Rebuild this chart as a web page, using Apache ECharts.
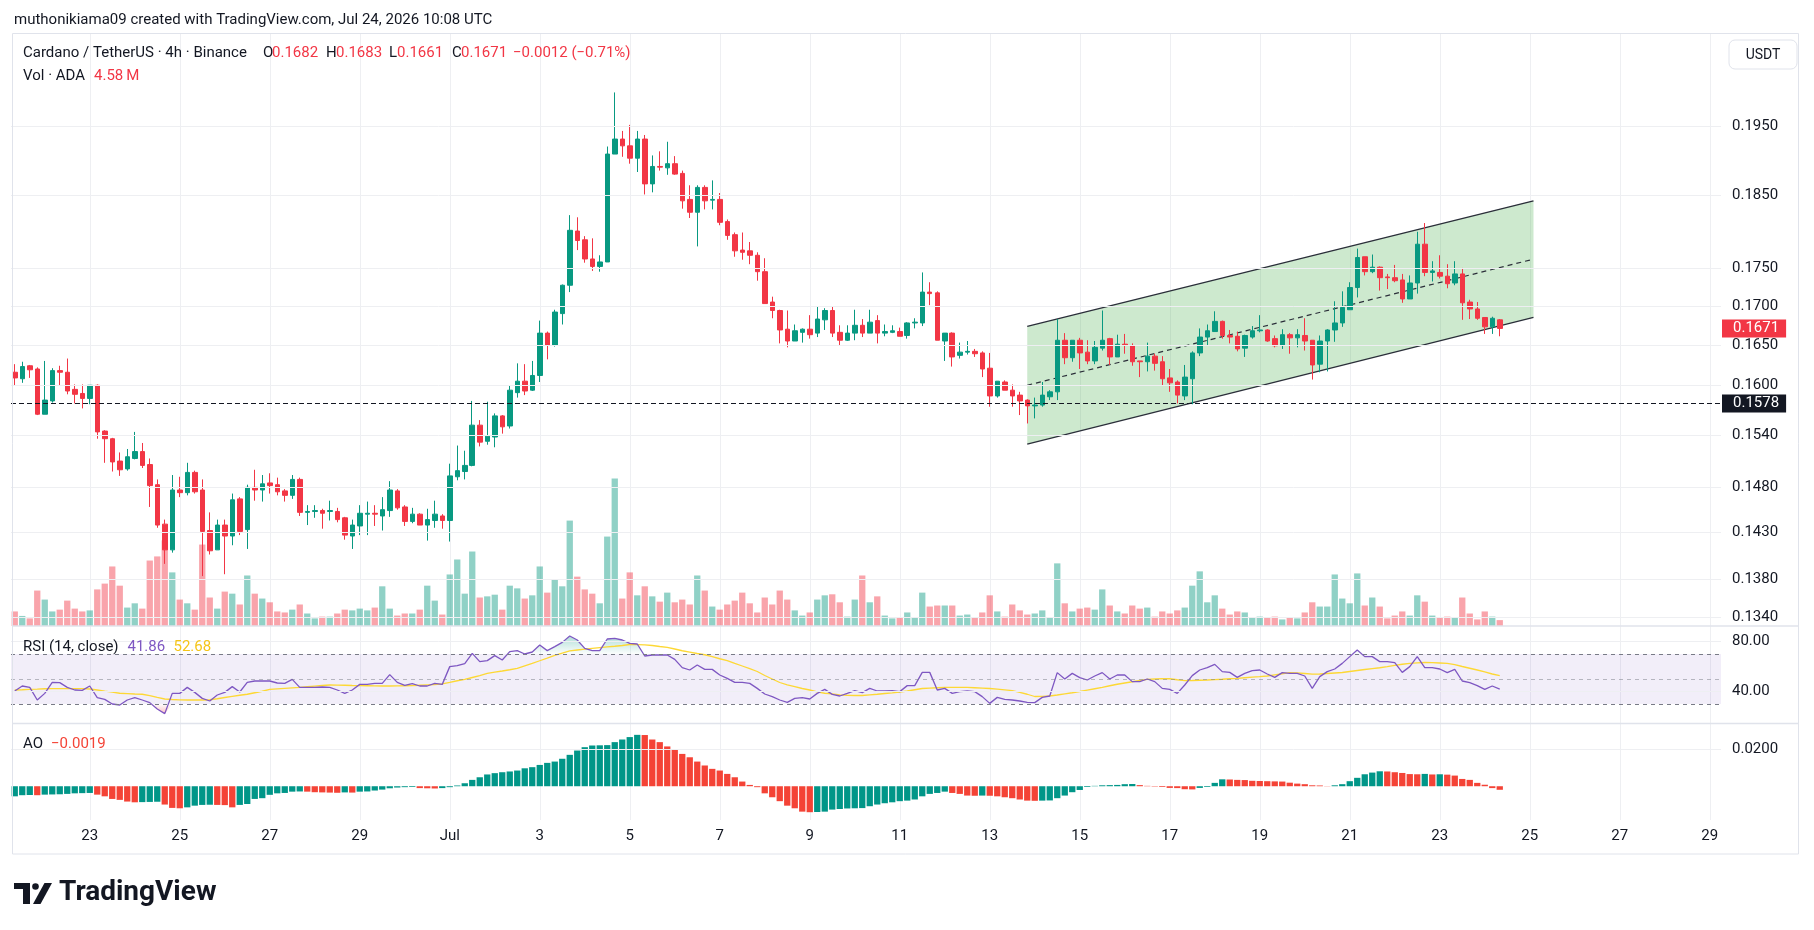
<!DOCTYPE html>
<html>
<head>
<meta charset="utf-8">
<title>Cardano / TetherUS 4h</title>
<script src="https://cdn.jsdelivr.net/npm/echarts@6.0.0/dist/echarts.min.js"></script>
<style>
html, body { margin: 0; padding: 0; background: #ffffff; }
#chart { width: 1814px; height: 930px; }
</style>
</head>
<body>
<div id="chart"></div>
<script>
// ADA/USDT 4h candles from Jun 21 08:00 UTC to Jul 24 08:00 UTC
var startTime = Date.UTC(2026, 5, 21, 8, 0);
var slotMs = 4 * 3600 * 1000;
var slotCount = 228;   // candles + empty right margin (to Jul 29)
var monthNames = ['Jan','Feb','Mar','Apr','May','Jun','Jul','Aug','Sep','Oct','Nov','Dec'];

var opens = [
  .1616,.1608,.1624,.1620,.1565,.1581,.1618,.1616,.1595,.1590,
  .1584,.1600,.1545,.1536,.1510,.1501,.1513,.1521,.1506,.1483,
  .1439,.1411,.1477,.1474,.1497,.1477,.1432,.1411,.1438,.1426,
  .1467,.1433,.1480,.1477,.1485,.1483,.1476,.1471,.1489,.1452,
  .1453,.1454,.1453,.1453,.1446,.1426,.1437,.1450,.1451,.1448,
  .1454,.1476,.1458,.1442,.1450,.1438,.1443,.1448,.1443,.1492,
  .1498,.1505,.1552,.1533,.1538,.1563,.1551,.1591,.1605,.1594,
  .1612,.1665,.1650,.1690,.1727,.1800,.1788,.1762,.1752,.1758,
  .1909,.1931,.1921,.1903,.1931,.1866,.1891,.1889,.1895,.1881,
  .1844,.1826,.1861,.1843,.1844,.1813,.1795,.1774,.1773,.1767,
  .1745,.1705,.1694,.1670,.1655,.1666,.1670,.1665,.1682,.1694,
  .1666,.1656,.1665,.1675,.1665,.1681,.1665,.1666,.1667,.1662,
  .1678,.1678,.1718,.1717,.1655,.1665,.1637,.1641,.1642,.1640,
  .1621,.1587,.1604,.1594,.1588,.1582,.1575,.1576,.1586,.1592,
  .1656,.1634,.1656,.1641,.1630,.1646,.1658,.1635,.1651,.1649,
  .1630,.1629,.1636,.1629,.1609,.1604,.1587,.1608,.1640,.1660,
  .1667,.1680,.1662,.1661,.1646,.1660,.1668,.1669,.1658,.1650,
  .1663,.1659,.1662,.1656,.1626,.1655,.1669,.1678,.1695,.1724,
  .1765,.1745,.1751,.1738,.1737,.1734,.1709,.1730,.1782,.1744,
  .1744,.1739,.1730,.1742,.1705,.1696,.1685,.1673,.1682
];
var highs = [
  .1626,.1629,.1625,.1622,.1630,.1621,.1624,.1633,.1601,.1601,
  .1600,.1601,.1546,.1537,.1520,.1524,.1544,.1531,.1513,.1489,
  .1444,.1494,.1492,.1508,.1499,.1489,.1452,.1444,.1444,.1473,
  .1469,.1483,.1500,.1494,.1496,.1491,.1478,.1494,.1491,.1460,
  .1460,.1456,.1465,.1457,.1447,.1444,.1460,.1464,.1460,.1469,
  .1487,.1478,.1460,.1457,.1451,.1456,.1465,.1450,.1507,.1528,
  .1522,.1581,.1558,.1580,.1566,.1564,.1600,.1627,.1626,.1630,
  .1681,.1667,.1695,.1728,.1822,.1819,.1793,.1790,.1767,.1920,
  .2001,.1943,.1952,.1943,.1937,.1907,.1913,.1927,.1906,.1885,
  .1864,.1864,.1864,.1871,.1853,.1816,.1798,.1798,.1785,.1771,
  .1763,.1712,.1695,.1694,.1676,.1671,.1688,.1699,.1697,.1699,
  .1675,.1675,.1695,.1683,.1695,.1688,.1676,.1675,.1672,.1679,
  .1684,.1744,.1731,.1719,.1665,.1666,.1653,.1655,.1645,.1642,
  .1640,.1605,.1606,.1601,.1592,.1583,.1585,.1604,.1594,.1683,
  .1665,.1656,.1659,.1656,.1655,.1694,.1659,.1663,.1664,.1652,
  .1630,.1653,.1639,.1636,.1620,.1606,.1625,.1642,.1671,.1676,
  .1693,.1681,.1669,.1667,.1663,.1674,.1688,.1670,.1662,.1670,
  .1665,.1670,.1684,.1656,.1662,.1670,.1706,.1719,.1731,.1776,
  .1765,.1768,.1752,.1742,.1754,.1742,.1740,.1799,.1811,.1759,
  .1767,.1755,.1759,.1750,.1708,.1705,.1685,.1686,.1683
];
var lows = [
  .1600,.1603,.1609,.1564,.1565,.1579,.1600,.1589,.1578,.1572,
  .1577,.1536,.1508,.1498,.1493,.1499,.1512,.1502,.1458,.1435,
  .1396,.1408,.1469,.1471,.1473,.1383,.1406,.1411,.1385,.1416,
  .1427,.1412,.1465,.1464,.1473,.1471,.1464,.1467,.1448,.1438,
  .1446,.1434,.1443,.1441,.1422,.1412,.1427,.1427,.1437,.1432,
  .1447,.1455,.1437,.1440,.1438,.1421,.1435,.1434,.1420,.1488,
  .1489,.1504,.1527,.1529,.1526,.1542,.1548,.1585,.1588,.1593,
  .1604,.1632,.1648,.1676,.1718,.1774,.1757,.1746,.1745,.1758,
  .1909,.1905,.1895,.1883,.1851,.1854,.1885,.1879,.1879,.1831,
  .1818,.1779,.1830,.1830,.1808,.1788,.1765,.1761,.1755,.1733,
  .1703,.1684,.1652,.1647,.1655,.1653,.1658,.1660,.1669,.1660,
  .1650,.1655,.1656,.1660,.1665,.1652,.1661,.1665,.1661,.1658,
  .1671,.1674,.1701,.1656,.1630,.1623,.1633,.1638,.1635,.1610,
  .1574,.1585,.1594,.1574,.1564,.1554,.1560,.1574,.1582,.1582,
  .1626,.1629,.1620,.1626,.1626,.1643,.1625,.1635,.1639,.1624,
  .1610,.1617,.1618,.1600,.1592,.1578,.1582,.1577,.1636,.1650,
  .1667,.1658,.1652,.1642,.1635,.1658,.1666,.1654,.1647,.1645,
  .1639,.1647,.1643,.1607,.1616,.1617,.1654,.1673,.1695,.1711,
  .1740,.1743,.1720,.1722,.1731,.1704,.1709,.1716,.1739,.1732,
  .1736,.1723,.1727,.1682,.1683,.1682,.1664,.1664,.1661
];
var closes = [
  .1609,.1623,.1619,.1565,.1582,.1618,.1616,.1593,.1589,.1584,
  .1600,.1544,.1536,.1509,.1500,.1515,.1521,.1505,.1482,.1438,
  .1411,.1477,.1474,.1497,.1475,.1431,.1410,.1438,.1426,.1466,
  .1431,.1480,.1477,.1484,.1482,.1475,.1471,.1489,.1452,.1453,
  .1454,.1451,.1454,.1444,.1427,.1438,.1451,.1451,.1450,.1455,
  .1477,.1457,.1442,.1450,.1438,.1444,.1450,.1443,.1493,.1499,
  .1505,.1552,.1532,.1539,.1563,.1550,.1594,.1605,.1593,.1612,
  .1665,.1650,.1692,.1727,.1801,.1787,.1762,.1752,.1758,.1909,
  .1931,.1921,.1903,.1931,.1866,.1891,.1890,.1895,.1880,.1842,
  .1826,.1861,.1842,.1844,.1812,.1794,.1773,.1771,.1767,.1745,
  .1703,.1694,.1669,.1655,.1668,.1670,.1663,.1683,.1694,.1665,
  .1656,.1665,.1675,.1665,.1679,.1665,.1667,.1668,.1661,.1678,
  .1679,.1718,.1716,.1656,.1665,.1635,.1641,.1642,.1639,.1620,
  .1587,.1605,.1594,.1587,.1581,.1575,.1576,.1588,.1592,.1656,
  .1634,.1656,.1640,.1630,.1647,.1656,.1635,.1651,.1650,.1629,
  .1629,.1636,.1627,.1608,.1603,.1588,.1610,.1640,.1660,.1668,
  .1680,.1662,.1660,.1645,.1662,.1668,.1669,.1655,.1649,.1663,
  .1659,.1663,.1655,.1625,.1655,.1669,.1678,.1698,.1724,.1764,
  .1745,.1751,.1737,.1737,.1733,.1709,.1730,.1782,.1744,.1746,
  .1739,.1729,.1742,.1704,.1696,.1684,.1673,.1684,.1671
];
// volume, millions of ADA
var volumes = [
  11.3,7.8,5.9,27.5,20.5,11.3,12.7,19.7,13.5,11.3,
  12.1,28.4,32.9,46.2,31.3,14.3,17.6,13.5,50.8,54.0,
  66.4,41.6,20.5,17.6,12.7,63.2,22.1,13.5,26.7,25.1,
  16.7,39.2,25.1,21.3,18.4,11.3,10.5,12.7,16.7,9.7,
  5.9,7.3,7.3,9.7,12.7,12.1,13.5,12.1,14.3,30.8,
  13.5,8.1,9.7,9.7,12.7,31.3,19.7,8.9,40.0,51.6,
  25.1,57.8,22.1,23.0,24.3,12.7,31.3,29.2,21.3,23.8,
  46.2,25.9,36.2,30.8,81.8,38.3,28.4,25.1,17.6,69.4,
  114.5,21.3,41.6,23.8,30.8,23.0,18.9,25.9,18.4,20.5,
  16.7,39.2,27.5,15.1,12.7,16.7,19.7,25.9,17.6,10.5,
  22.1,16.7,27.5,20.5,12.1,8.1,10.5,20.5,23.8,24.6,
  18.4,7.3,20.5,39.2,18.4,23.0,8.1,5.9,6.5,10.5,
  6.5,25.9,15.1,15.9,15.9,15.9,8.1,8.9,6.5,10.5,
  23.8,11.3,7.3,16.7,12.1,8.9,9.7,12.1,6.5,48.6,
  17.6,11.3,13.5,14.3,12.7,28.4,15.9,11.3,9.7,15.9,
  13.5,14.3,7.3,11.3,9.7,12.1,14.3,31.3,42.4,18.4,
  23.8,13.5,8.9,11.3,10.5,6.5,7.3,6.5,7.3,5.1,
  6.5,5.9,10.5,18.4,15.1,15.1,40.0,21.3,17.6,40.8,
  15.9,22.1,15.1,5.9,8.1,11.3,8.1,23.8,18.9,8.1,
  6.5,7.3,6.5,22.1,9.7,5.1,11.3,7.3,4.58
];
var rsiValues = [
  40.4,44.4,43.3,33.2,38.5,47.3,47.1,43.3,41.2,40.9,
  44.4,35.1,33.7,30.0,29.2,33.2,35.1,33.2,31.1,26.0,
  22.3,38.5,38.5,43.3,39.3,34.5,32.4,37.2,39.3,43.9,
  39.6,47.3,48.4,48.4,48.4,46.8,46.5,49.7,43.3,43.3,
  43.3,43.6,43.3,41.2,38.5,41.2,45.7,45.7,46.5,46.5,
  53.5,47.3,44.9,46.3,44.4,44.4,46.5,45.7,59.9,60.7,
  62.3,70.5,63.9,64.7,68.7,65.2,71.9,72.7,70.0,71.6,
  77.2,72.7,75.9,79.3,84.4,81.2,74.5,72.7,72.7,82.0,
  82.5,81.2,78.5,78.0,68.4,69.2,69.2,69.2,65.7,59.1,
  57.2,61.2,57.7,57.7,53.2,50.5,47.3,47.3,46.5,42.5,
  38.0,35.9,33.2,31.3,34.5,35.1,34.0,38.5,41.7,37.7,
  36.4,38.5,40.7,39.1,42.5,40.4,40.4,40.7,39.9,44.7,
  44.7,55.3,55.3,41.2,42.5,38.5,39.9,40.4,39.9,35.9,
  30.5,35.3,33.7,33.2,32.4,31.3,31.1,35.3,36.4,55.1,
  50.0,54.5,51.1,49.2,52.4,55.1,50.0,53.2,53.2,47.9,
  47.9,50.0,47.9,42.5,41.7,38.5,45.2,52.7,57.2,59.1,
  61.7,55.9,55.3,51.3,54.5,56.7,57.2,54.0,51.3,55.1,
  54.5,54.5,52.4,42.5,51.9,55.9,58.0,62.5,67.9,73.2,
  67.9,67.9,63.9,63.9,63.1,55.3,59.9,67.9,59.1,59.1,
  58.0,55.1,57.7,48.4,47.1,44.7,41.7,44.4,41.86
];
var rsiMa = [
  41.2,41.4,41.7,41.9,42.2,42.3,42.3,42.3,42.3,42.3,
  42.0,41.2,40.3,39.5,38.6,38.3,38.0,37.8,36.7,35.3,
  34.0,33.6,33.3,33.2,33.2,33.2,33.4,34.2,35.2,36.1,
  37.0,37.8,39.0,40.2,41.7,42.1,42.5,42.9,43.3,43.8,
  44.3,44.8,45.2,45.1,45.0,44.8,44.7,44.6,44.5,44.4,
  44.4,44.5,44.6,44.7,45.0,45.3,45.6,46.1,47.3,48.6,
  49.7,51.2,52.7,54.5,55.5,56.4,57.4,58.5,60.5,62.5,
  64.6,66.7,68.9,70.7,72.5,73.2,73.9,74.5,75.1,75.7,
  76.2,76.8,77.6,77.5,77.3,76.8,76.0,75.3,74.0,72.6,
  71.5,70.4,69.4,67.9,66.2,64.7,62.5,60.4,58.3,56.0,
  52.8,50.0,47.2,45.3,43.9,42.4,41.2,39.7,38.6,38.1,
  37.3,37.0,36.8,36.8,37.3,37.8,38.4,38.9,39.6,40.4,
  41.4,42.4,42.7,43.0,43.3,43.3,43.3,43.3,43.0,42.7,
  42.4,41.9,41.3,40.7,39.3,37.8,36.0,36.1,36.4,37.2,
  38.1,39.0,40.0,41.1,42.2,43.3,44.6,45.8,46.8,47.8,
  48.8,49.7,50.0,50.3,50.2,49.4,48.7,48.8,49.0,49.2,
  49.5,49.8,50.2,50.5,51.0,51.5,51.9,52.4,53.3,54.2,
  55.1,54.9,54.4,53.9,54.0,54.4,54.8,55.2,56.0,56.8,
  57.6,58.3,59.0,59.9,60.9,61.8,62.5,62.9,63.2,63.1,
  62.8,62.5,61.5,60.0,58.6,57.2,55.7,54.0,52.68
];
var aoValues = [
  -.0054,-.0048,-.0047,-.0048,-.0045,-.0044,-.0043,-.0041,-.0038,-.0037,
  -.0036,-.0045,-.0054,-.0068,-.0073,-.0082,-.0086,-.0085,-.0084,-.0083,
  -.0098,-.0116,-.0118,-.0113,-.0104,-.0100,-.0099,-.0100,-.0101,-.0113,
  -.0100,-.0095,-.0068,-.0064,-.0046,-.0038,-.0036,-.0029,-.0028,-.0029,
  -.0032,-.0033,-.0034,-.0035,-.0033,-.0034,-.0029,-.0028,-.0023,-.0018,
  -.0011,-.0007,-.0005,-.0004,-.0010,-.0011,-.0012,-.0010,-.0005,.0004,
  .0016,.0034,.0048,.0063,.0070,.0075,.0079,.0084,.0096,.0102,
  .0114,.0125,.0132,.0147,.0168,.0191,.0209,.0218,.0219,.0220,
  .0236,.0250,.0263,.0275,.0274,.0250,.0236,.0213,.0197,.0173,
  .0155,.0132,.0111,.0093,.0084,.0066,.0048,.0025,.0007,-.0005,
  -.0038,-.0059,-.0080,-.0104,-.0118,-.0136,-.0139,-.0138,-.0136,-.0125,
  -.0122,-.0119,-.0118,-.0117,-.0107,-.0098,-.0091,-.0086,-.0080,-.0077,
  -.0071,-.0054,-.0041,-.0036,-.0029,-.0036,-.0041,-.0050,-.0051,-.0050,
  -.0051,-.0054,-.0059,-.0064,-.0071,-.0077,-.0078,-.0077,-.0076,-.0064,
  -.0050,-.0032,-.0020,-.0004,.0002,.0005,.0006,.0007,.0011,.0012,
  .0006,.0002,-.0002,-.0004,-.0009,-.0010,-.0016,-.0017,-.0009,-.0004,
  .0018,.0037,.0036,.0034,.0033,.0029,.0028,.0027,.0026,.0025,
  .0019,.0014,.0011,.0005,.0004,.0001,.0005,.0011,.0027,.0045,
  .0064,.0073,.0080,.0079,.0075,.0071,.0065,.0064,.0066,.0063,
  .0064,.0062,.0057,.0039,.0034,.0018,.0008,-.0010,-.0019
];

var priceTicks = [0.1340, 0.1380, 0.1430, 0.1480, 0.1540, 0.1600, 0.1650, 0.1700, 0.1750, 0.1850, 0.1950];
var rsiTicks = [40, 80];
var rsiBand = [30, 50, 70];
var aoTicks = [0.02];
var supportLevel = 0.1578;
// parallel channel drawing: anchor bars and prices
var channelBars = [135, 202.5];
var channelUpper = [0.16735, 0.18420];
var channelLower = [0.15298, 0.16850];

var FONT = 'Roboto, "Liberation Sans", Arial, sans-serif';
var TEXT = '#131722';
var UP = '#089981';
var DOWN = '#f23645';
var AO_UP = '#009688';
var AO_DOWN = '#f44336';
var GRID_LINE = '#eeeff2';
var last = closes.length - 1;

var categories = [];
for (var k = 0; k < slotCount; k++) {
  categories.push(new Date(startTime + k * slotMs).toISOString().slice(0, 16));
}
function isDayMark(index) {
  var d = new Date(startTime + index * slotMs);
  return d.getUTCHours() === 0 && d.getUTCDate() % 2 === 1;
}
function dayText(value, index) {
  var d = new Date(startTime + index * slotMs);
  return d.getUTCDate() === 1 ? monthNames[d.getUTCMonth()] : String(d.getUTCDate());
}

var candleData = opens.map(function (o, i) { return [o, closes[i], lows[i], highs[i]]; });

function xAxisFor(gridIndex, labels, split) {
  return {
    type: 'category', gridIndex: gridIndex, data: categories, boundaryGap: true,
    axisLine: { show: false }, axisTick: { show: false },
    axisLabel: { show: labels, interval: isDayMark, formatter: dayText, color: TEXT,
                 fontSize: 15, fontFamily: FONT, margin: 9 },
    splitLine: { show: split, interval: isDayMark, alignWithLabel: true,
                 lineStyle: { color: GRID_LINE, width: 1 } }
  };
}

function axisLabelStyle() {
  return { show: true, position: 'end', distance: 11, color: TEXT, fontSize: 15,
           fontFamily: FONT, formatter: '{b}' };
}

function txt(x, y, s, color, size, weight) {
  return { type: 'text', x: x, y: y, silent: true, z: 100,
    style: { text: s, fill: color || TEXT, fontSize: size || 15, fontFamily: FONT,
             fontWeight: weight || 'normal', verticalAlign: 'middle' } };
}

var chart = echarts.init(document.getElementById('chart'));
var option = {
  animation: false,
  backgroundColor: '#ffffff',
  grid: [
    { left: 11, width: 1710, top: 34, height: 592 },
    { left: 11, width: 1710, top: 426, height: 200 },
    { left: 11, width: 1710, top: 626, height: 97.5 },
    { left: 11, width: 1710, top: 723.5, height: 96.5 }
  ],
  xAxis: [
    xAxisFor(0, false, true),
    xAxisFor(1, false, false),
    xAxisFor(2, false, true),
    xAxisFor(3, true, true)
  ],
  yAxis: [
    { type: 'log', logBase: 10, gridIndex: 0, min: 0.13313, max: 0.20923, show: false },
    { type: 'value', gridIndex: 1, min: 0, max: 155.2, show: false },
    { type: 'value', gridIndex: 2, min: 14.4, max: 92.4, show: false },
    { type: 'value', gridIndex: 3, min: -0.01807, max: 0.03357, show: false }
  ],
  series: [
    // price scale grid lines + labels
    {
      type: 'line', xAxisIndex: 0, yAxisIndex: 0, data: [], z: 1, silent: true,
      markLine: {
        silent: true, symbol: 'none', animation: false, precision: 6,
        lineStyle: { color: GRID_LINE, width: 1, type: 'solid' },
        label: axisLabelStyle(),
        emphasis: { disabled: true },
        data: priceTicks.map(function (v) { return { yAxis: v, name: v.toFixed(4) }; })
      }
    },
    // parallel channel
    {
      type: 'custom', xAxisIndex: 0, yAxisIndex: 0, z: 2, silent: true, clip: false,
      data: [[channelBars[0], channelUpper[0]]],
      renderItem: function (params, api) {
        var band = api.size([1, 0])[0];
        function pt(bar, price) {
          var base = Math.floor(bar);
          var p = api.coord([base, price]);
          return [p[0] + (bar - base) * band, p[1]];
        }
        var ul = pt(channelBars[0], channelUpper[0]);
        var ur = pt(channelBars[1], channelUpper[1]);
        var ll = pt(channelBars[0], channelLower[0]);
        var lr = pt(channelBars[1], channelLower[1]);
        var ml = [ul[0], (ul[1] + ll[1]) / 2];
        var mr = [ur[0], (ur[1] + lr[1]) / 2];
        return {
          type: 'group',
          children: [
            { type: 'polygon', shape: { points: [ul, ur, lr, ll] },
              style: { fill: 'rgba(76,175,80,0.28)' } },
            { type: 'polyline', shape: { points: [ul, ur] },
              style: { stroke: '#2a2e39', lineWidth: 1.3, fill: null } },
            { type: 'polyline', shape: { points: [ll, lr] },
              style: { stroke: '#2a2e39', lineWidth: 1.3, fill: null } },
            { type: 'polyline', shape: { points: [ml, mr] },
              style: { stroke: '#2a2e39', lineWidth: 1.2, lineDash: [5, 4], fill: null } }
          ]
        };
      }
    },
    {
      name: 'ADAUSDT', type: 'candlestick', xAxisIndex: 0, yAxisIndex: 0, z: 3,
      barWidth: 5,
      itemStyle: { color: UP, color0: DOWN, borderColor: UP, borderColor0: DOWN, borderWidth: 1 },
      data: candleData
    },
    // horizontal level + last price tags
    {
      type: 'line', xAxisIndex: 0, yAxisIndex: 0, data: [], z: 6, silent: true,
      markLine: {
        silent: true, symbol: 'none', animation: false, precision: 6, emphasis: { disabled: true },
        data: [
          { yAxis: supportLevel, name: supportLevel.toFixed(4),
            lineStyle: { color: TEXT, width: 1.2, type: [5, 3] },
            label: { show: true, position: 'end', distance: 1, formatter: '{b}', color: '#ffffff',
                     backgroundColor: TEXT, fontSize: 15, fontFamily: FONT, lineHeight: 15,
                     padding: [2, 7, 1, 11] } },
          { yAxis: closes[last], name: closes[last].toFixed(4),
            lineStyle: { color: 'rgba(0,0,0,0)', width: 0 },
            label: { show: true, position: 'end', distance: 1, formatter: '{b}', color: '#ffffff',
                     backgroundColor: DOWN, fontSize: 15, fontFamily: FONT, lineHeight: 15,
                     padding: [2, 7, 1, 11] } }
        ]
      }
    },
    {
      name: 'Volume', type: 'bar', xAxisIndex: 1, yAxisIndex: 1, z: 2,
      barCategoryGap: '16%',
      itemStyle: {
        color: function (p) {
          return closes[p.dataIndex] >= opens[p.dataIndex] ? 'rgba(8,153,129,0.45)' : 'rgba(242,54,69,0.45)';
        }
      },
      data: volumes
    },
    // RSI band, levels and labels
    {
      type: 'line', xAxisIndex: 2, yAxisIndex: 2, data: [], z: 1, silent: true,
      markArea: {
        silent: true, itemStyle: { color: 'rgba(126,87,194,0.1)' },
        data: [[{ yAxis: rsiBand[0] }, { yAxis: rsiBand[2] }]]
      },
      markLine: {
        silent: true, symbol: 'none', animation: false, precision: 4, emphasis: { disabled: true },
        data: rsiTicks.map(function (v) {
          return { yAxis: v, name: v.toFixed(2), lineStyle: { color: GRID_LINE, width: 1, type: 'solid' },
                   label: axisLabelStyle() };
        }).concat(rsiBand.map(function (v) {
          return { yAxis: v, lineStyle: { color: v === 50 ? 'rgba(120,123,134,0.5)' : '#787b86',
                   width: 1, type: [4, 4] }, label: { show: false } };
        }))
      }
    },
    {
      type: 'line', xAxisIndex: 2, yAxisIndex: 2, stack: 'ob', z: 2, silent: true, symbol: 'none',
      lineStyle: { opacity: 0 },
      data: rsiValues.map(function () { return rsiBand[2]; })
    },
    {
      type: 'line', xAxisIndex: 2, yAxisIndex: 2, stack: 'ob', z: 2, silent: true, symbol: 'none',
      lineStyle: { opacity: 0 },
      areaStyle: { color: new echarts.graphic.LinearGradient(0, 0, 0, 1, [
        { offset: 0, color: 'rgba(8,153,129,0.45)' }, { offset: 1, color: 'rgba(8,153,129,0.02)' }]) },
      data: rsiValues.map(function (v) { return Math.max(v - rsiBand[2], 0); })
    },
    {
      type: 'line', xAxisIndex: 2, yAxisIndex: 2, stack: 'os', z: 2, silent: true, symbol: 'none',
      lineStyle: { opacity: 0 },
      data: rsiValues.map(function (v) { return Math.min(v, rsiBand[0]); })
    },
    {
      type: 'line', xAxisIndex: 2, yAxisIndex: 2, stack: 'os', z: 2, silent: true, symbol: 'none',
      lineStyle: { opacity: 0 },
      areaStyle: { color: new echarts.graphic.LinearGradient(0, 0, 0, 1, [
        { offset: 0, color: 'rgba(242,54,69,0.02)' }, { offset: 1, color: 'rgba(242,54,69,0.45)' }]) },
      data: rsiValues.map(function (v) { return rsiBand[0] - Math.min(v, rsiBand[0]); })
    },
    {
      name: 'RSI', type: 'line', xAxisIndex: 2, yAxisIndex: 2, z: 4, symbol: 'none',
      lineStyle: { color: '#7e57c2', width: 1.3 },
      data: rsiValues
    },
    {
      name: 'RSI MA', type: 'line', xAxisIndex: 2, yAxisIndex: 2, z: 3, symbol: 'none',
      lineStyle: { color: '#fdd835', width: 1.3 },
      data: rsiMa
    },
    // AO
    {
      type: 'line', xAxisIndex: 3, yAxisIndex: 3, data: [], z: 1, silent: true,
      markLine: {
        silent: true, symbol: 'none', animation: false, precision: 6, emphasis: { disabled: true },
        lineStyle: { color: GRID_LINE, width: 1, type: 'solid' },
        label: axisLabelStyle(),
        data: aoTicks.map(function (v) { return { yAxis: v, name: v.toFixed(4) }; })
      }
    },
    {
      name: 'AO', type: 'bar', xAxisIndex: 3, yAxisIndex: 3, z: 2,
      barCategoryGap: '16%',
      itemStyle: {
        color: function (p) {
          var i = p.dataIndex;
          return (i === 0 || aoValues[i] >= aoValues[i - 1]) ? AO_UP : AO_DOWN;
        }
      },
      data: aoValues
    }
  ],
  graphic: [
    // frame and pane separators
    { type: 'rect', silent: true, z: 50, shape: { x: 12.5, y: 33.5, width: 1786, height: 820.5 },
      style: { fill: null, stroke: '#e0e3eb', lineWidth: 1 } },
    { type: 'line', silent: true, z: 50, shape: { x1: 12.5, y1: 626, x2: 1798.5, y2: 626 },
      style: { stroke: '#e0e3eb', lineWidth: 1.5 } },
    { type: 'line', silent: true, z: 50, shape: { x1: 12.5, y1: 723.5, x2: 1798.5, y2: 723.5 },
      style: { stroke: '#e0e3eb', lineWidth: 1.5 } },
    // currency box on the price scale
    { type: 'rect', silent: true, z: 50, shape: { x: 1729, y: 40, width: 68, height: 29, r: 6 },
      style: { fill: '#ffffff', stroke: '#e0e3eb', lineWidth: 1 } },
    { type: 'text', silent: true, z: 51, x: 1763, y: 55,
      style: { text: 'USDT', fill: TEXT, fontSize: 14, fontFamily: FONT, align: 'center', verticalAlign: 'middle' } },
    // header
    txt(14, 20, 'muthonikiama09 created with TradingView.com, Jul 24, 2026 10:08 UTC', TEXT, 15),
    txt(23, 53, 'Cardano / TetherUS \u00b7 4h \u00b7 Binance'),
    txt(263, 53, 'O'), txt(272, 53, opens[last].toFixed(4), DOWN),
    txt(326, 53, 'H'), txt(336, 53, highs[last].toFixed(4), DOWN),
    txt(389, 53, 'L'), txt(397, 53, lows[last].toFixed(4), DOWN),
    txt(452, 53, 'C'), txt(461, 53, closes[last].toFixed(4), DOWN),
    txt(513, 53, '\u22120.0012 (\u22120.71%)', DOWN),
    txt(23, 76, 'Vol \u00b7 ADA'), txt(94, 76, volumes[last].toFixed(2) + '\u2009M', DOWN),
    txt(23, 647, 'RSI (14, close)'),
    txt(127.5, 647, rsiValues[last].toFixed(2), '#7e57c2'),
    txt(173.5, 647, rsiMa[last].toFixed(2), '#f5c518'),
    txt(23, 744, 'AO'),
    txt(51, 744, '\u2212' + Math.abs(aoValues[last]).toFixed(4), AO_DOWN),
    // TradingView logo
    { type: 'rect', silent: true, shape: { x: 14, y: 883, width: 16, height: 6 }, style: { fill: TEXT } },
    { type: 'rect', silent: true, shape: { x: 23, y: 883, width: 7, height: 21 }, style: { fill: TEXT } },
    { type: 'circle', silent: true, shape: { cx: 35.5, cy: 886.5, r: 3.3 }, style: { fill: TEXT } },
    { type: 'polygon', silent: true, shape: { points: [[33, 904], [40.5, 904], [52, 883], [44.5, 883]] },
      style: { fill: TEXT } },
    txt(59, 893, 'TradingView', TEXT, 28, 'bold')
  ]
};
chart.setOption(option);
</script>
</body>
</html>
